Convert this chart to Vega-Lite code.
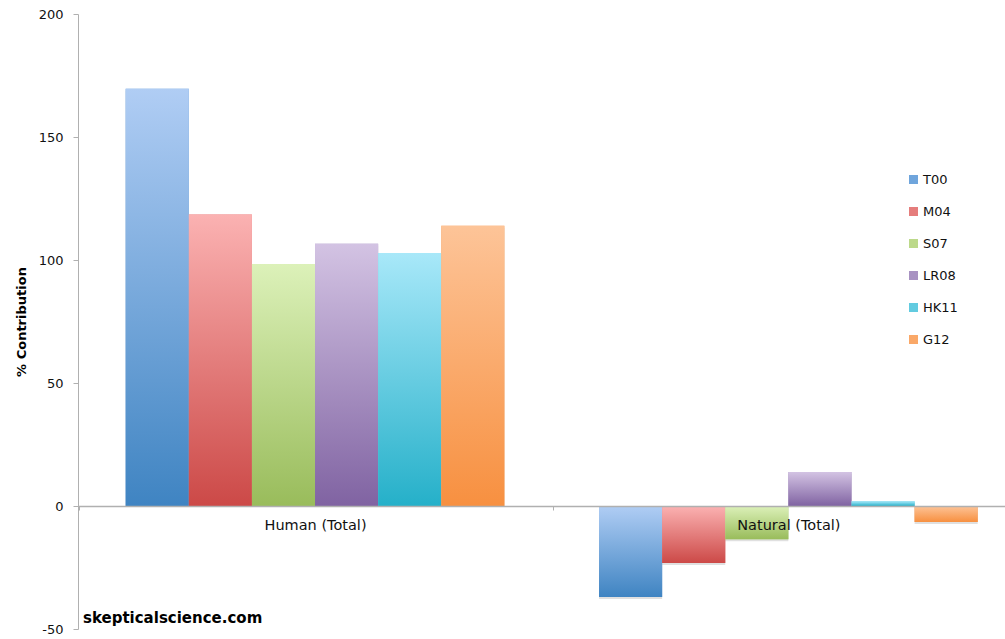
{
  "$schema": "https://vega.github.io/schema/vega-lite/v6.json",
  "width": 927,
  "height": 615,
  "autosize": {"type": "none"},
  "padding": {"left": 78, "top": 14, "right": 0, "bottom": 10},
  "background": "white",
  "config": {
    "view": {"stroke": null},
    "font": "DejaVu Sans"
  },
  "title": {
    "text": "skepticalscience.com",
    "orient": "bottom",
    "anchor": "start",
    "frame": "group",
    "fontSize": 15,
    "fontWeight": "bold",
    "color": "black",
    "offset": -25,
    "dx": 5
  },
  "data": {
    "values": [
      {"group": "Human (Total)", "study": "T00", "value": 169.6},
      {"group": "Human (Total)", "study": "M04", "value": 118.5},
      {"group": "Human (Total)", "study": "S07", "value": 98.4},
      {"group": "Human (Total)", "study": "LR08", "value": 106.6},
      {"group": "Human (Total)", "study": "HK11", "value": 102.8},
      {"group": "Human (Total)", "study": "G12", "value": 113.9},
      {"group": "Natural (Total)", "study": "T00", "value": -37.0},
      {"group": "Natural (Total)", "study": "M04", "value": -23.2},
      {"group": "Natural (Total)", "study": "S07", "value": -13.5},
      {"group": "Natural (Total)", "study": "LR08", "value": 13.8},
      {"group": "Natural (Total)", "study": "HK11", "value": 1.9},
      {"group": "Natural (Total)", "study": "G12", "value": -6.5}
    ]
  },
  "encoding": {
    "x": {
      "field": "group",
      "type": "nominal",
      "sort": null,
      "scale": {"paddingInner": 0.2, "paddingOuter": 0.0792, "align": 0.636},
      "axis": {
        "title": null,
        "orient": "bottom",
        "offset": -123,
        "zindex": 1,
        "labelAngle": 0,
        "labelFontSize": 14.5,
        "labelColor": "#111111",
        "labelPadding": 8,
        "labelBaseline": "top",
        "bandPosition": 0,
        "tickOffset": -46.5,
        "labelOffset": 46.5,
        "tickSize": 4,
        "tickColor": "#b0b0b0",
        "domainColor": "#b0b0b0",
        "domainWidth": 1.5
      }
    },
    "xOffset": {
      "field": "study",
      "type": "nominal",
      "sort": ["T00", "M04", "S07", "LR08", "HK11", "G12"],
      "scale": {"paddingInner": 0, "paddingOuter": 0}
    },
    "y": {
      "field": "value",
      "type": "quantitative",
      "stack": null,
      "scale": {"domain": [-50, 200], "nice": false, "zero": true},
      "axis": {
        "values": [-50, 0, 50, 100, 150, 200],
        "labelExpr": "'' + datum.value",
        "title": "% Contribution",
        "titleFontSize": 13,
        "titleFontWeight": "bold",
        "titleColor": "black",
        "titlePadding": 10,
        "labelFontSize": 13,
        "labelColor": "#111111",
        "labelPadding": 10,
        "labelFlush": false,
        "tickSize": 5,
        "tickColor": "#b0b0b0",
        "domainColor": "#b0b0b0",
        "grid": false
      }
    }
  },
  "layer": [
    {
      "mark": {"type": "bar", "color": "#000000", "opacity": 0.12, "xOffset": 2, "yOffset": 2}
    },
    {
      "mark": {"type": "bar"},
      "encoding": {
        "color": {
          "field": "study",
          "type": "nominal",
          "sort": ["T00", "M04", "S07", "LR08", "HK11", "G12"],
          "scale": {
            "domain": ["T00", "M04", "S07", "LR08", "HK11", "G12"],
            "range": ["#6fa5dc", "#e57d7c", "#bcd98a", "#a892c2", "#62cbe0", "#faa868"]
          },
          "legend": {
            "title": null,
            "orient": "none",
            "legendX": 829,
            "legendY": 159,
            "symbolType": "square",
            "symbolSize": 81,
            "symbolStrokeWidth": 0,
            "labelFontSize": 13,
            "labelColor": "#111111",
            "labelOffset": 3,
            "rowPadding": 18
          }
        }
      }
    },
    {
      "transform": [{"filter": "datum.study === 'T00'"}],
      "mark": {"type": "bar", "color": {"gradient": "linear", "x1": 0, "y1": 0, "x2": 0, "y2": 1, "stops": [{"offset": 0, "color": "#b0cdf4"}, {"offset": 1, "color": "#3f84c2"}]}}
    },
    {
      "transform": [{"filter": "datum.study === 'M04'"}],
      "mark": {"type": "bar", "color": {"gradient": "linear", "x1": 0, "y1": 0, "x2": 0, "y2": 1, "stops": [{"offset": 0, "color": "#fbb2b2"}, {"offset": 1, "color": "#cc4947"}]}}
    },
    {
      "transform": [{"filter": "datum.study === 'S07'"}],
      "mark": {"type": "bar", "color": {"gradient": "linear", "x1": 0, "y1": 0, "x2": 0, "y2": 1, "stops": [{"offset": 0, "color": "#dcf1b9"}, {"offset": 1, "color": "#99bc5b"}]}}
    },
    {
      "transform": [{"filter": "datum.study === 'LR08'"}],
      "mark": {"type": "bar", "color": {"gradient": "linear", "x1": 0, "y1": 0, "x2": 0, "y2": 1, "stops": [{"offset": 0, "color": "#d3c3e3"}, {"offset": 1, "color": "#8063a2"}]}}
    },
    {
      "transform": [{"filter": "datum.study === 'HK11'"}],
      "mark": {"type": "bar", "color": {"gradient": "linear", "x1": 0, "y1": 0, "x2": 0, "y2": 1, "stops": [{"offset": 0, "color": "#a8e8f9"}, {"offset": 1, "color": "#25b0c9"}]}}
    },
    {
      "transform": [{"filter": "datum.study === 'G12'"}],
      "mark": {"type": "bar", "color": {"gradient": "linear", "x1": 0, "y1": 0, "x2": 0, "y2": 1, "stops": [{"offset": 0, "color": "#fdc498"}, {"offset": 1, "color": "#f79040"}]}}
    }
  ]
}
